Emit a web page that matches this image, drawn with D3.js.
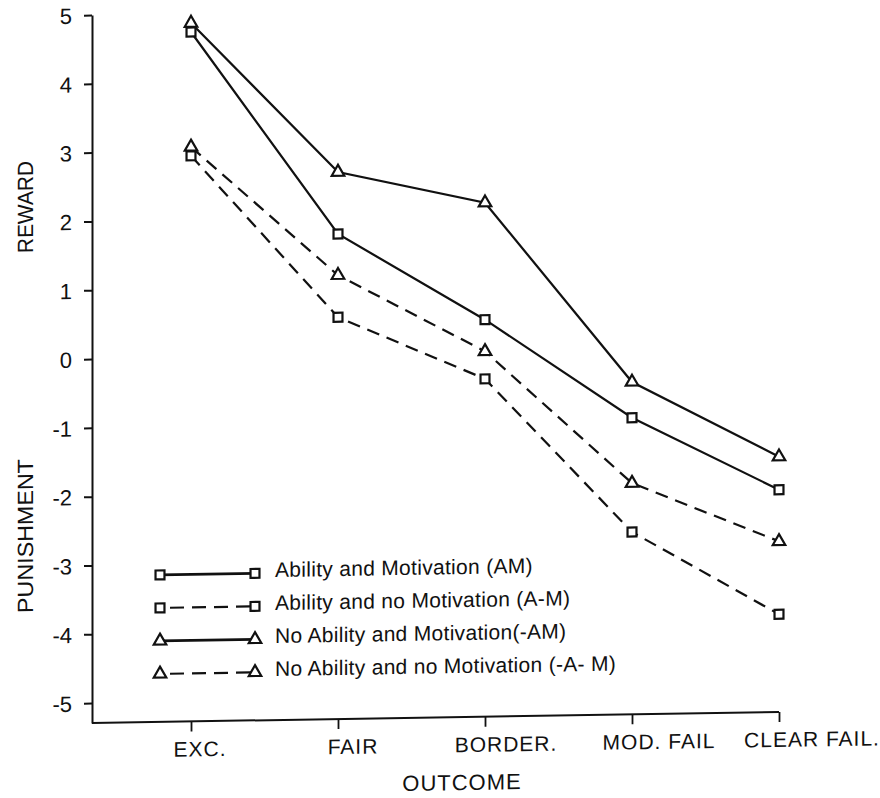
<!DOCTYPE html>
<html>
<head>
<meta charset="utf-8">
<script src="https://cdn.jsdelivr.net/npm/d3@7"></script>
<style>
    body { margin: 0; background: #fff; }
    svg text { font-family: 'Liberation Sans', Arial, sans-serif; fill: #111; }
</style>
</head>
<body>
<svg id="chart" width="880" height="798"></svg>
<script>

// values
const outcomes = ['EXC.', 'FAIR', 'BORDER.', 'MOD. FAIL', 'CLEAR FAIL.']
const yTicks   = [5, 4, 3, 2, 1, 0, -1, -2, -3, -4, -5]

const seriesAM     = [4.73, 1.76, 0.48, -0.98, -2.06]
const seriesAnoM   = [2.93, 0.55, -0.38, -2.64, -3.87]
const seriesNoAM   = [4.86, 2.66, 2.18, -0.46, -1.58]
const seriesNoAnoM = [3.06, 1.16, 0.02, -1.93, -2.81]

const seriesNames = [
    'Ability and Motivation (AM)',
    'Ability and no Motivation (A-M)',
    'No Ability and Motivation(-AM)',
    'No Ability and no Motivation (-A- M)'
]

class ChartView{

    constructor(){
        this.svg = d3.select('#chart')
        // the scan is slightly skewed: the base line rises to the right
        this.g = this.svg.append('g')
            .attr('transform', 'translate(92,0) skewY(-0.92) translate(-92,0)')

        this.x = d3.scalePoint().domain(outcomes).range([191, 779])
        this.xLabel = d3.scalePoint().domain(outcomes).range([200, 812])
        this.y = d3.scaleLinear().domain([-5.29, 5]).range([723, 15])

        this.series = [
            {name: seriesNames[0], values: seriesAM,     dash: null,   shape: 'square'},
            {name: seriesNames[1], values: seriesAnoM,   dash: '13,8', shape: 'square'},
            {name: seriesNames[2], values: seriesNoAM,   dash: null,   shape: 'triangle'},
            {name: seriesNames[3], values: seriesNoAnoM, dash: '13,8', shape: 'triangle'}
        ]
    }

    marker(shape){
        if (shape === 'square'){
            return d3.symbol(d3.symbolSquare, 80)()
        }
        return d3.symbol(d3.symbolTriangle, 68)()
    }

    draw_Axes(){
        const yAxis = d3.axisLeft(this.y)
            .tickValues(yTicks)
            .tickSize(8)
            .tickSizeOuter(0)
            .tickPadding(12)
            .tickFormat(d => d)

        const yg = this.g.append('g')
            .attr('transform', 'translate(92,0)')
            .call(yAxis)

        yg.select('.domain').attr('stroke', '#111').attr('stroke-width', 2)
        yg.selectAll('.tick line').attr('stroke', '#111').attr('stroke-width', 2)
        yg.selectAll('.tick text')
            .attr('font-size', 22)
            .attr('dy', '0.36em')

        const xAxis = d3.axisBottom(this.x)
            .tickSize(10)
            .tickSizeOuter(0)
            .tickFormat('')

        const xg = this.g.append('g')
            .attr('transform', 'translate(0,723)')
            .call(xAxis)

        xg.select('.domain').remove()
        xg.selectAll('.tick line').attr('stroke', '#111').attr('stroke-width', 1.8)

        // base line from the y axis to the last tick
        xg.append('line')
            .attr('x1', 92)
            .attr('x2', this.x(outcomes[outcomes.length - 1]))
            .attr('stroke', '#111')
            .attr('stroke-width', 2)

        this.g.append('g')
            .selectAll('text')
            .data(outcomes)
            .join('text')
            .attr('x', d => this.xLabel(d))
            .attr('y', 758)
            .attr('text-anchor', 'middle')
            .attr('font-size', 21)
            .attr('letter-spacing', 1)
            .text(d => d)

        this.g.append('text')
            .attr('x', 462)
            .attr('y', 796)
            .attr('text-anchor', 'middle')
            .attr('font-size', 22)
            .attr('letter-spacing', 1)
            .text('OUTCOME')

        this.g.append('text')
            .attr('transform', 'translate(33,206) rotate(-90)')
            .attr('text-anchor', 'middle')
            .attr('font-size', 22)
            .attr('textLength', 92)
            .attr('lengthAdjust', 'spacingAndGlyphs')
            .text('REWARD')

        this.g.append('text')
            .attr('transform', 'translate(33,535) rotate(-90)')
            .attr('text-anchor', 'middle')
            .attr('font-size', 22)
            .attr('textLength', 154)
            .attr('lengthAdjust', 'spacingAndGlyphs')
            .text('PUNISHMENT')
    }

    draw_Lines(){
        const line = d3.line()
            .x((d, i) => this.x(outcomes[i]))
            .y(d => this.y(d))

        this.series.forEach(s => {
            this.g.append('path')
                .datum(s.values)
                .attr('d', line)
                .attr('fill', 'none')
                .attr('stroke', '#111')
                .attr('stroke-width', 2.2)
                .attr('stroke-dasharray', s.dash)

            this.g.append('g')
                .selectAll('path')
                .data(s.values)
                .join('path')
                .attr('transform', (d, i) => `translate(${this.x(outcomes[i])},${this.y(d)})`)
                .attr('d', this.marker(s.shape))
                .attr('fill', '#fff')
                .attr('stroke', '#111')
                .attr('stroke-width', 2.2)
        })
    }

    draw_Legend(){
        const rowY = d3.scalePoint().domain(d3.range(this.series.length)).range([576, 675])

        this.series.forEach((s, i) => {
            const yy = rowY(i)
            const row = this.g.append('g')

            row.append('line')
                .attr('x1', 160)
                .attr('x2', 255)
                .attr('y1', yy)
                .attr('y2', yy)
                .attr('stroke', '#111')
                .attr('stroke-width', s.dash ? 2.2 : 2.8)
                .attr('stroke-dasharray', s.dash ? '0,10,14,8,14,8,14,8,14' : null)

            row.selectAll('path')
                .data([160, 255])
                .join('path')
                .attr('transform', d => `translate(${d},${yy})`)
                .attr('d', this.marker(s.shape))
                .attr('fill', '#fff')
                .attr('stroke', '#111')
                .attr('stroke-width', 2.2)

            row.append('text')
                .attr('x', 275)
                .attr('y', yy + 4)
                .attr('font-size', 21)
                .attr('letter-spacing', 0.3)
                .text(s.name)
        })
    }
}

const chart = new ChartView()
chart.draw_Axes()
chart.draw_Lines()
chart.draw_Legend()

</script>
</body>
</html>
